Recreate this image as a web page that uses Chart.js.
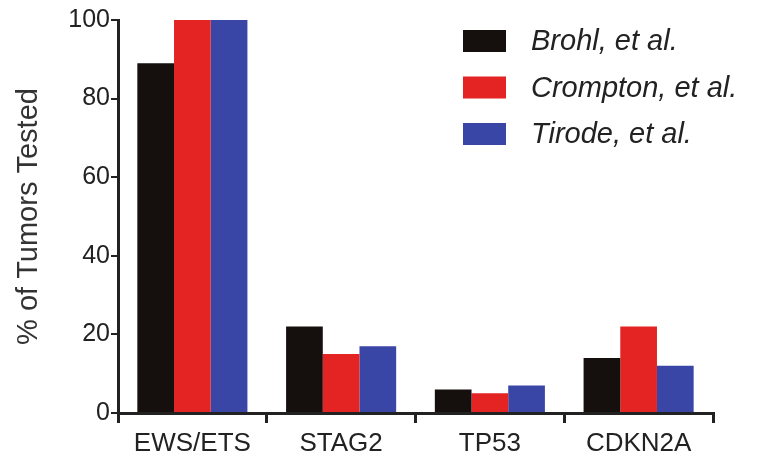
<!DOCTYPE html>
<html>
<head>
<meta charset="utf-8">
<script src="https://cdn.jsdelivr.net/npm/chart.js@4/dist/chart.umd.min.js"></script>
<style>
  html, body { margin: 0; padding: 0; background: #fff; }
  #wrap { width: 762px; height: 464px; }
</style>
</head>
<body>
<div id="wrap"><canvas id="tumorChart" width="762" height="464"></canvas></div>
<script>
const genes = ["EWS/ETS", "STAG2", "TP53", "CDKN2A"];
const brohl = [89, 22, 6, 14];
const crompton = [100, 15, 5, 22];
const tirode = [100, 17, 7, 12];
const yTicks = [0, 20, 40, 60, 80, 100];

// legend drawn inside the plot, top right
const boxLegend = {
    id: "boxLegend",
    afterDraw(chart) {
        const ctx = chart.ctx;
        ctx.save();
        ctx.font = "italic 29px 'Liberation Sans', Arial, sans-serif";
        ctx.textBaseline = "middle";
        chart.data.datasets.forEach((ds, i) => {
            const y = 41 + i * 46.5;
            ctx.fillStyle = ds.backgroundColor;
            ctx.fillRect(463, y - 11, 43, 22);
            ctx.fillStyle = "#222";
            ctx.fillText(ds.label, 531, y + 1);
        });
        ctx.restore();
    }
};

const tumorChart = new Chart(
    document.getElementById("tumorChart"),
    {
        type: "bar",
        data: {
            labels: genes,
            datasets: [
                { label: "Brohl, et al.", data: brohl, backgroundColor: "#150f0d" },
                { label: "Crompton, et al.", data: crompton, backgroundColor: "#e42323" },
                { label: "Tirode, et al.", data: tirode, backgroundColor: "#3a46a6" }
            ]
        },
        options: {
            responsive: false,
            animation: false,
            layout: { padding: { top: 20, right: 49, left: 12, bottom: 0 } },
            plugins: {
                legend: { display: false },
                tooltip: { enabled: false }
            },
            datasets: {
                bar: { categoryPercentage: 0.74, barPercentage: 1.0 }
            },
            scales: {
                x: {
                    afterFit: s => { s.height = 51; },
                    border: { display: true, color: "#222", width: 3 },
                    grid: { display: true, drawOnChartArea: false, drawTicks: true, tickLength: 10, color: "#222", lineWidth: 3 },
                    ticks: {
                        color: "#222",
                        padding: 5,
                        font: { family: "'Liberation Sans', Arial, sans-serif", size: 26 }
                    }
                },
                y: {
                    min: 0,
                    max: 100,
                    afterFit: s => { s.width = 106; },
                    afterBuildTicks: s => { s.ticks = yTicks.map(v => ({ value: v })); },
                    border: { display: true, color: "#222", width: 3 },
                    grid: { display: true, drawOnChartArea: false, drawTicks: true, tickLength: 7, color: "#222", lineWidth: 2 },
                    ticks: {
                        color: "#222",
                        padding: 1,
                        font: { family: "'Liberation Sans', Arial, sans-serif", size: 25 }
                    },
                    title: {
                        display: true,
                        text: "% of Tumors Tested",
                        color: "#333",
                        padding: { top: 0, bottom: 4 },
                        font: { family: "'Liberation Sans', Arial, sans-serif", size: 29 }
                    }
                }
            }
        },
        plugins: [boxLegend]
    }
);
</script>
</body>
</html>
